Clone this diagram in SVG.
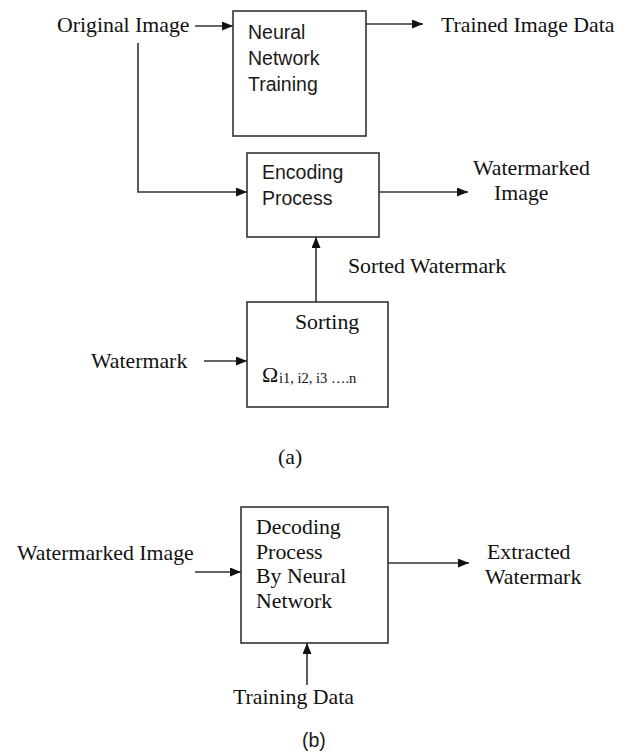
<svg xmlns="http://www.w3.org/2000/svg" width="626" height="753" viewBox="0 0 626 753">
<style>
.box{fill:#fff;stroke:#333;stroke-width:1.6}
.ln{fill:none;stroke:#333;stroke-width:1.6}
.s{font-family:"Liberation Serif","Times New Roman",serif;font-size:21.8px;fill:#111}
.ss{font-family:"Liberation Sans",Arial,sans-serif;font-size:19.5px;fill:#1a1a1a}
.sub{font-family:"Liberation Serif","Times New Roman",serif;font-size:14.5px;fill:#111}
</style>
<defs>
<marker id="ah" markerUnits="userSpaceOnUse" markerWidth="12" markerHeight="10" refX="11" refY="4.5" orient="auto">
<path d="M0,0 L11,4.5 L0,9 z" fill="#111"/>
</marker>
</defs>
<g id="connectors">
<line class="ln" x1="195" y1="26" x2="233" y2="26" marker-end="url(#ah)"/>
<line class="ln" x1="366" y1="24" x2="423" y2="24" marker-end="url(#ah)"/>
<polyline class="ln" points="138,43 138,192 247,192" marker-end="url(#ah)"/>
<line class="ln" x1="379" y1="192" x2="468" y2="192" marker-end="url(#ah)"/>
<line class="ln" x1="316" y1="302" x2="316" y2="237" marker-end="url(#ah)"/>
<line class="ln" x1="204" y1="361" x2="247" y2="361" marker-end="url(#ah)"/>
<line class="ln" x1="195" y1="572" x2="241" y2="572" marker-end="url(#ah)"/>
<line class="ln" x1="388" y1="563" x2="469" y2="563" marker-end="url(#ah)"/>
<line class="ln" x1="307" y1="685" x2="307" y2="643" marker-end="url(#ah)"/>
</g>
<g id="original-image"><text class="s" x="57" y="32">Original Image</text></g>
<g id="nn-training">
<rect class="box" x="233" y="11" width="133" height="125"/>
<text class="ss" x="248" y="39">Neural</text>
<text class="ss" x="248" y="65">Network</text>
<text class="ss" x="248" y="91">Training</text>
</g>
<g id="trained-data"><text class="s" x="441" y="32">Trained Image Data</text></g>
<g id="encoding">
<rect class="box" x="247" y="153" width="132" height="84"/>
<text class="ss" x="262" y="179">Encoding</text>
<text class="ss" x="262" y="205">Process</text>
</g>
<g id="watermarked-image-a">
<text class="s" x="473" y="175">Watermarked</text>
<text class="s" x="494" y="200">Image</text>
</g>
<g id="sorted-watermark"><text class="s" x="348" y="273">Sorted Watermark</text></g>
<g id="sorting">
<rect class="box" x="247" y="302" width="141" height="105"/>
<text class="s" x="295" y="329">Sorting</text>
<text class="s" x="262" y="382" font-size="24">Ω</text>
<text class="sub" x="279" y="383">i1, i2, i3 ….n</text>
</g>
<g id="watermark"><text class="s" x="91" y="368">Watermark</text></g>
<g id="label-a"><text class="s" x="278" y="464">(a)</text></g>
<g id="watermarked-image-b"><text class="s" x="17" y="560">Watermarked Image</text></g>
<g id="decoding">
<rect class="box" x="241" y="507" width="147" height="136"/>
<text class="s" x="256" y="534">Decoding</text>
<text class="s" x="256" y="559">Process</text>
<text class="s" x="256" y="583">By Neural</text>
<text class="s" x="256" y="608">Network</text>
</g>
<g id="extracted">
<text class="s" x="487" y="559">Extracted</text>
<text class="s" x="485" y="584">Watermark</text>
</g>
<g id="training-data"><text class="s" x="233" y="704">Training Data</text></g>
<g id="label-b"><text class="ss" x="302" y="747">(b)</text></g>
</svg>
